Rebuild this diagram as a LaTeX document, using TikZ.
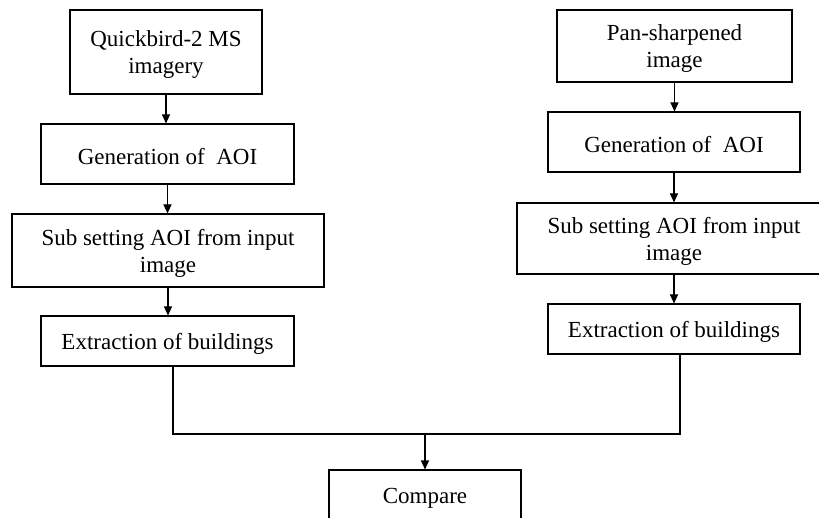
\documentclass[tikz,border=0pt]{standalone}
\usepackage{fontspec}
\setmainfont{Liberation Serif}
\usetikzlibrary{arrows.meta}
\begin{document}
\begin{tikzpicture}[x=1pt,y=-1pt,
  stepbox/.style={draw,line width=1.1pt,inner sep=0pt},
  steptext/.style={align=center,inner sep=0pt,yshift=-3pt,
    font=\fontsize{23}{27}\selectfont},
  arr/.style={line width=1.1pt,-{Triangle[length=9pt,width=8pt]}},
  link/.style={line width=1.1pt}]
\useasboundingbox (0,0) rectangle (819,518);
\clip (0,0) rectangle (819,518);
% left branch
\node[stepbox,minimum width=192pt,minimum height=84pt,
  label={[steptext]center:Quickbird-2 MS\\imagery}] (l1) at (166,52) {};
\node[stepbox,minimum width=253pt,minimum height=60pt,
  label={[steptext]center:Generation of\ \ AOI}] (l2) at (167.5,154) {};
\node[stepbox,minimum width=312pt,minimum height=73pt,
  label={[steptext]center:Sub setting AOI from input\\image}] (l3) at (168,250.5) {};
\node[stepbox,minimum width=253pt,minimum height=50pt,
  label={[steptext]center:Extraction of buildings}] (l4) at (167.5,341) {};
% right branch
\node[stepbox,minimum width=235pt,minimum height=72pt,
  label={[steptext]center:Pan-sharpened\\image}] (r1) at (674.5,46) {};
\node[stepbox,minimum width=252pt,minimum height=60pt,
  label={[steptext]center:Generation of\ \ AOI}] (r2) at (674,142) {};
\node[stepbox,minimum width=314pt,minimum height=71pt,
  label={[steptext]center:Sub setting AOI from input\\image}] (r3) at (674,238.5) {};
\node[stepbox,minimum width=252pt,minimum height=50pt,
  label={[steptext]center:Extraction of buildings}] (r4) at (674,329) {};
% merge
\node[stepbox,minimum width=192pt,minimum height=50pt,
  label={[steptext]center:Compare}] (cmp) at (425,495) {};
\coordinate (jl) at (173,434);
\coordinate (jr) at (680,434);
\coordinate (jm) at (425,434);
% connectors
\draw[arr] (l1.south) -- (l1.south |- l2.north);
\draw[arr] (l2.south) -- (l2.south |- l3.north);
\draw[arr] (l3.south) -- (l3.south |- l4.north);
\draw[arr] (r1.south) -- (r1.south |- r2.north);
\draw[arr] (r2.south) -- (r2.south |- r3.north);
\draw[arr] (r3.south) -- (r3.south |- r4.north);
\draw[link] (l4.south -| jl) -- (jl) -- (jr) -- (r4.south -| jr);
\draw[arr] (jm) -- (cmp.north);
\end{tikzpicture}
\end{document}
